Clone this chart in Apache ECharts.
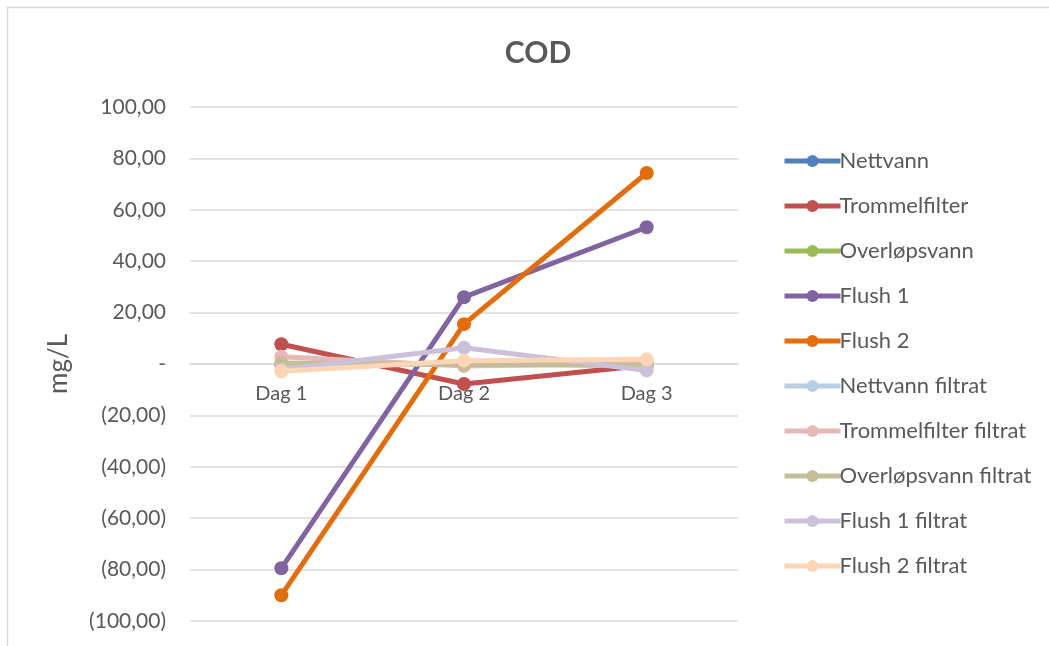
<!DOCTYPE html>
<html>
<head>
<meta charset="utf-8">
<script src="https://cdn.jsdelivr.net/npm/echarts@6/dist/echarts.min.js"></script>
<style>
  html, body { margin: 0; padding: 0; background: #fff; }
  #chart { width: 1049px; height: 646px; }
</style>
</head>
<body>
<div id="chart"></div>
<script>
// COD measurements (mg/L) per sampling day
const categories = ['Dag 1', 'Dag 2', 'Dag 3'];

const nettvann = [0, 0, 0];
const trommelfilter = [7.7, -7.8, -0.5];
const overlopsvann = [0, 0, -0.5];
const flush1 = [-79.5, 26.0, 53.2];
const flush2 = [-90.0, 15.5, 74.3];
const nettvannFiltrat = [0, 0, 0];
const trommelfilterFiltrat = [2.8, -0.8, 0.3];
const overlopsvannFiltrat = [0.4, -0.2, -0.5];
const flush1Filtrat = [-2.2, 6.3, -2.5];
const flush2Filtrat = [-2.8, 1.3, 1.8];

const seriesNames = [
  'Nettvann', 'Trommelfilter', 'Overløpsvann', 'Flush 1', 'Flush 2',
  'Nettvann filtrat', 'Trommelfilter filtrat', 'Overløpsvann filtrat',
  'Flush 1 filtrat', 'Flush 2 filtrat'
];
const seriesData = [
  nettvann, trommelfilter, overlopsvann, flush1, flush2,
  nettvannFiltrat, trommelfilterFiltrat, overlopsvannFiltrat,
  flush1Filtrat, flush2Filtrat
];
const seriesColors = [
  '#4f81bd', '#c0504d', '#9bbb59', '#8064a2', '#e46c0a',
  '#b9cde5', '#e6b9b8', '#c4bd97', '#ccc1da', '#fcd5b5'
];

const FONT = 'Lato, "Open Sans", sans-serif';

const GRID_TOP = 107;
const GRID_BOTTOM = 25;
const CHART_H = 646;

function fmt(v) {
  if (Math.abs(v) < 1e-9) return '-';
  const s = Math.abs(v).toFixed(2).replace('.', ',');
  return v < 0 ? '(' + s + ')' : s;
}

const chart = echarts.init(document.getElementById('chart'), null, { renderer: 'canvas' });

// the category axis sits on the zero line, halfway up the symmetric value range
const plotHeight = CHART_H - GRID_TOP - GRID_BOTTOM;

chart.setOption({
  backgroundColor: '#ffffff',
  animation: false,
  graphic: [{
    type: 'rect',
    shape: { x: 7.5, y: 7.5, width: 1100, height: 700 },
    style: { fill: 'none', stroke: '#d9d9d9', lineWidth: 1.5 },
    silent: true
  }],
  title: {
    text: 'COD',
    left: 533,
    top: 33,
    textAlign: 'center',
    textStyle: { fontFamily: FONT, fontSize: 30, fontWeight: 'bold', color: '#595959' }
  },
  legend: {
    orient: 'vertical',
    left: 777,
    top: 144,
    itemWidth: 56,
    itemHeight: 15,
    itemGap: 21,
    data: seriesNames,
    lineStyle: { width: 5 },
    textStyle: { fontFamily: FONT, fontSize: 22, lineHeight: 24, color: '#595959', padding: [0, 0, 0, -6] }
  },
  grid: { left: 190, right: 311, top: GRID_TOP, bottom: GRID_BOTTOM, containLabel: false, outerBoundsMode: 'none' },
  xAxis: {
    type: 'category',
    data: categories,
    boundaryGap: true,
    position: 'bottom',
    offset: -plotHeight / 2,
    axisLine: { onZero: false, lineStyle: { color: '#d9d9d9', width: 1.5 } },
    axisTick: { show: false },
    axisLabel: { margin: 20, fontFamily: FONT, fontSize: 20, color: '#595959' }
  },
  yAxis: {
    type: 'value',
    min: -100,
    max: 100,
    interval: 20,
    name: 'mg/L',
    nameLocation: 'middle',
    nameGap: 118,
    nameRotate: 90,
    nameTextStyle: { fontFamily: FONT, fontSize: 26, color: '#595959' },
    axisLine: { show: false },
    axisTick: { show: false },
    splitLine: { lineStyle: { color: '#d9d9d9', width: 1.5 } },
    axisLabel: { margin: 24, fontFamily: FONT, fontSize: 21, color: '#595959', formatter: fmt }
  },
  series: seriesNames.map((name, i) => ({
    name: name,
    type: 'line',
    data: seriesData[i],
    color: seriesColors[i],
    symbol: 'circle',
    symbolSize: 14,
    lineStyle: { width: 5, color: seriesColors[i] },
    itemStyle: { color: seriesColors[i] },
    z: 2 + i
  }))
});
</script>
</body>
</html>
